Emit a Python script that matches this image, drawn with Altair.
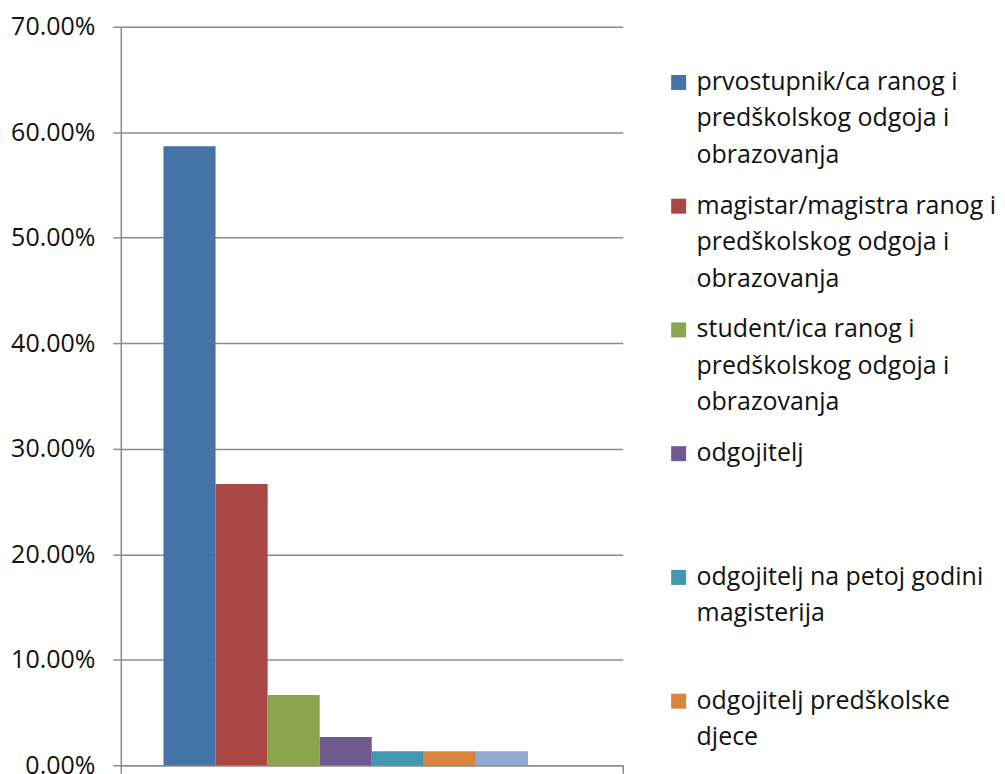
import altair as alt
import pandas as pd

# ---- data ----
series = [
    "prvostupnik/ca ranog i predškolskog odgoja i obrazovanja",
    "magistar/magistra ranog i predškolskog odgoja i obrazovanja",
    "student/ica ranog i predškolskog odgoja i obrazovanja",
    "odgojitelj",
    "odgojitelj na petoj godini magisterija",
    "odgojitelj predškolske djece",
    "serija 7",
]
values = [0.5867, 0.2667, 0.0667, 0.0267, 0.0133, 0.0133, 0.0133]
colors = ["#4572A7", "#AA4643", "#89A54E", "#71588F", "#4198AF", "#DB843D", "#93A9CF"]
y_ticks = [0.0, 0.1, 0.2, 0.3, 0.4, 0.5, 0.6, 0.7]

legend_lines = [
    ["prvostupnik/ca ranog i", "predškolskog odgoja i", "obrazovanja"],
    ["magistar/magistra ranog i", "predškolskog odgoja i", "obrazovanja"],
    ["student/ica ranog i", "predškolskog odgoja i", "obrazovanja"],
    ["odgojitelj"],
    ["odgojitelj na petoj godini", "magisterija"],
    ["odgojitelj predškolske", "djece"],
]

GRID = "#8c8c8c"
FONT = "Open Sans"

df = pd.DataFrame({"cat": [""] * len(series), "series": series, "value": values})

bars = alt.Chart(df).mark_bar().encode(
    x=alt.X(
        "cat:N",
        scale=alt.Scale(paddingInner=0, paddingOuter=0),
        axis=alt.Axis(title=None, labels=False, tickBand="extent", tickSize=8,
                      tickColor=GRID, tickWidth=1.5, domainColor=GRID, domainWidth=1.5,
                      grid=False),
    ),
    xOffset=alt.XOffset(
        "series:N",
        scale=alt.Scale(domain=series + [" "], paddingInner=0, paddingOuter=0.82),
    ),
    y=alt.Y(
        "value:Q",
        scale=alt.Scale(domain=[0, 0.7], nice=False),
        axis=alt.Axis(title=None, values=y_ticks, format=".2%", labelFont=FONT,
                      labelFontSize=25, labelColor="#111111", labelPadding=18,
                      tickSize=8, tickColor=GRID, tickWidth=1.5,
                      domainColor=GRID, domainWidth=1.5,
                      grid=True, gridColor=GRID, gridWidth=1.5),
    ),
    color=alt.Color("series:N", scale=alt.Scale(domain=series, range=colors), legend=None),
).properties(width=503, height=740)

leg_df = pd.DataFrame({
    "idx": list(range(len(legend_lines))),
    "label": ["\n".join(l) for l in legend_lines],
    "series": series[: len(legend_lines)],
})

leg_base = alt.Chart(leg_df).encode(
    y=alt.Y("idx:O", scale=alt.Scale(type="point", padding=0.484, align=0.465), axis=None)
)
leg_sq = leg_base.mark_square(size=225, opacity=1).encode(
    x=alt.value(40),
    color=alt.Color("series:N", scale=alt.Scale(domain=series, range=colors), legend=None),
)
leg_txt = leg_base.mark_text(
    align="left", baseline="alphabetic", lineBreak="\n", lineHeight=36.5,
    fontSize=25, font=FONT, dy=7.5, color="#111111",
).encode(x=alt.value(58), text="label:N")

legend = (leg_sq + leg_txt).properties(width=300, height=740)

chart = alt.hconcat(bars, legend, spacing=15).properties(
    padding={"left": 2, "top": 6, "right": 0, "bottom": 0}
).configure_view(stroke=None)

chart.save("out.html", embed_options={"renderer": "svg", "actions": False})
